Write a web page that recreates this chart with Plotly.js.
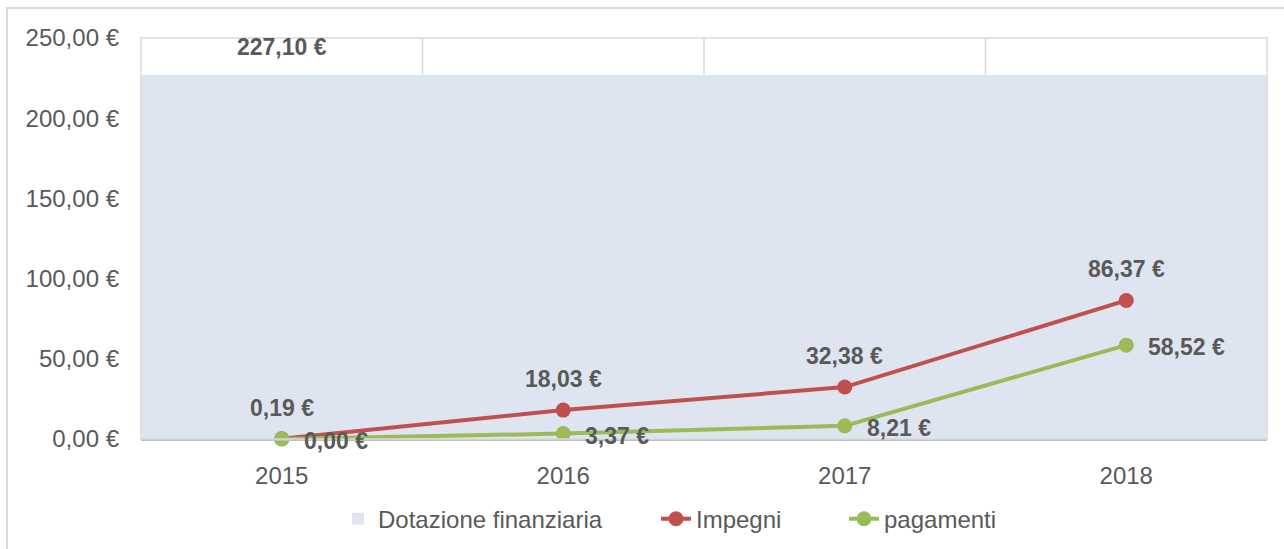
<!DOCTYPE html>
<html>
<head>
<meta charset="utf-8">
<script src="https://cdn.plot.ly/plotly-3.0.1.min.js"></script>
<style>html,body{margin:0;padding:0;background:#fff;}#chart{width:1284px;height:549px;}</style>
</head>
<body>
<div id="chart"></div>
<script>
const years = ['2015', '2016', '2017', '2018'];
const dotazione = [227.10, 227.10, 227.10, 227.10];
const impegni = [0.19, 18.03, 32.38, 86.37];
const pagamenti = [0.00, 3.37, 8.21, 58.52];
const yTicks = [0, 50, 100, 150, 200, 250];

const fmt = v => v.toFixed(2).replace('.', ',') + ' €';
const gray = '#595959';
const fontFam = '"Liberation Sans", Arial, sans-serif';

const traces = [
  {type: 'bar', name: 'Dotazione finanziaria', x: years, y: dotazione, width: 1,
   marker: {color: '#dee5f1', line: {width: 0}}, hoverinfo: 'skip', legend: 'legend'},
  {type: 'scatter', mode: 'lines+markers', name: 'Impegni', x: years, y: impegni,
   line: {color: '#c0504d', width: 4}, marker: {color: '#c0504d', size: 15},
   cliponaxis: false, legend: 'legend2'},
  {type: 'scatter', mode: 'lines+markers', name: 'pagamenti', x: years, y: pagamenti,
   line: {color: '#9bbb59', width: 4}, marker: {color: '#9bbb59', size: 15},
   cliponaxis: false, legend: 'legend3'}
];

const labelFont = {family: fontFam, size: 23, color: gray, weight: 'bold'};
const annotations = [];
annotations.push({x: 0, y: dotazione[0], xref: 'x', yref: 'y', text: '<b>' + fmt(dotazione[0]) + '</b>',
  showarrow: false, xanchor: 'center', yanchor: 'middle', yshift: 28, font: labelFont});
impegni.forEach((v, i) => annotations.push({x: i, y: v, xref: 'x', yref: 'y', text: '<b>' + fmt(v) + '</b>',
  showarrow: false, xanchor: 'center', yanchor: 'middle', yshift: 31, font: labelFont}));
pagamenti.forEach((v, i) => annotations.push({x: i, y: v, xref: 'x', yref: 'y', text: '<b>' + fmt(v) + '</b>',
  showarrow: false, xanchor: 'left', yanchor: 'middle', xshift: 20, yshift: -2, font: labelFont}));

const shapes = [];
[0.5, 1.5, 2.5].forEach(b => shapes.push({type: 'line', xref: 'x', yref: 'paper', x0: b, x1: b, y0: 0, y1: 1,
  layer: 'below', line: {color: '#d9d9d9', width: 1.5}}));
shapes.push({type: 'rect', xref: 'paper', yref: 'paper', x0: 0, x1: 1, y0: 0, y1: 1,
  layer: 'above', line: {color: '#d9d9d9', width: 1.5}});
shapes.push({type: 'rect', xref: 'paper', yref: 'paper', x0: -0.119, x1: 1.2, y0: -0.4, y1: 1.0748,
  layer: 'below', line: {color: '#d9d9d9', width: 2}});

const legFont = {family: fontFam, size: 24, color: gray};
const legBase = {orientation: 'h', xanchor: 'left', y: -0.2, yanchor: 'middle', font: legFont, bgcolor: 'rgba(0,0,0,0)'};

const layout = {
  width: 1284, height: 549,
  margin: {l: 141, r: 17, t: 38, b: 110, autoexpand: false},
  paper_bgcolor: '#fff', plot_bgcolor: '#fff',
  separators: ',.',
  font: {family: fontFam, size: 24, color: gray},
  showlegend: true,
  legend: Object.assign({}, legBase, {x: (338 - 141) / 1126}),
  legend2: Object.assign({}, legBase, {x: (656 - 141) / 1126}),
  legend3: Object.assign({}, legBase, {x: (844 - 141) / 1126}),
  xaxis: {type: 'category', range: [-0.5, 3.5], showgrid: false, zeroline: false,
    showline: true, linecolor: '#bfbfbf', linewidth: 1.5, ticks: '', ticklabelstandoff: 15,
    tickfont: {family: fontFam, size: 24, color: gray}, fixedrange: true},
  yaxis: {range: [0, 250], tickvals: yTicks, ticktext: yTicks.map(fmt), showgrid: false,
    zeroline: false, showline: false, ticks: '', ticklabelstandoff: 21,
    tickfont: {family: fontFam, size: 24, color: gray}, fixedrange: true},
  bargap: 0,
  annotations: annotations,
  shapes: shapes
};

Plotly.newPlot('chart', traces, layout, {displayModeBar: false, staticPlot: true});
</script>
</body>
</html>
